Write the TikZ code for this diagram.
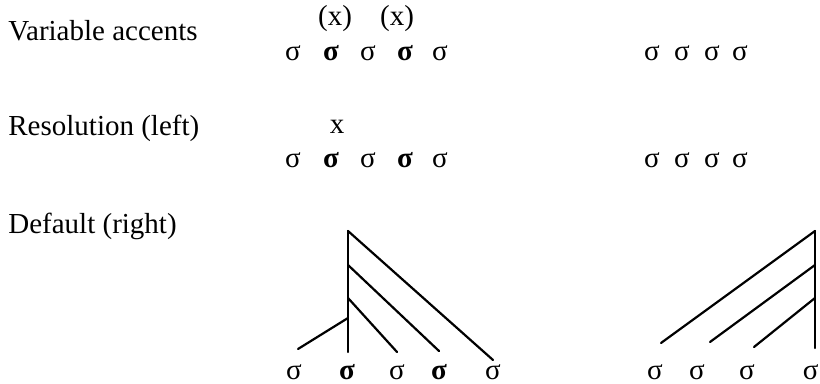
\documentclass[tikz,border=0pt]{standalone}
\usepackage{fontspec}
\setmainfont{Liberation Serif}
\usepackage{tikz}
\usetikzlibrary{positioning}
\tikzset{
  rowlabel/.style={anchor=west, inner sep=0pt, font=\fontsize{14.5}{17}\selectfont},
  syl/.style={inner sep=0pt, font=\fontsize{14.5}{17}\selectfont},
  strong/.style={inner sep=0pt, font=\fontsize{14.5}{17}\selectfont\bfseries},
  branch/.style={line width=1.1pt, line cap=round}
}
\begin{document}
\begin{tikzpicture}[x=0.5pt, y=-0.5pt]
        \useasboundingbox (0,0) rectangle (820,384);

        % Row labels
        \node[rowlabel] (labvar) at (8, 31) {Variable accents};
        \node[rowlabel] (labres) at (8, 128) {Resolution (left)};
        \node[rowlabel] (labdef) at (8, 226) {Default (right)};

        % Variable accents
        \node[syl] (xa) at (335, 19) {(x)};
        \node[syl] (xb) at (397, 19) {(x)};
        \node[syl] (va1) at (293, 53) {σ};
        \node[strong] (va2) at (331, 53) {σ};
        \node[syl] (va3) at (368, 53) {σ};
        \node[strong] (va4) at (405, 53) {σ};
        \node[syl] (va5) at (440, 53) {σ};
        \node[syl] (vb1) at (652, 53) {σ};
        \node[syl] (vb2) at (682, 53) {σ};
        \node[syl] (vb3) at (712, 53) {σ};
        \node[syl] (vb4) at (740, 53) {σ};

        % Resolution (left)
        \node[syl] (xr) at (337, 127) {x};
        \node[syl] (ra1) at (293, 160) {σ};
        \node[strong] (ra2) at (331, 160) {σ};
        \node[syl] (ra3) at (368, 160) {σ};
        \node[strong] (ra4) at (405, 160) {σ};
        \node[syl] (ra5) at (440, 160) {σ};
        \node[syl] (rb1) at (652, 160) {σ};
        \node[syl] (rb2) at (682, 160) {σ};
        \node[syl] (rb3) at (712, 160) {σ};
        \node[syl] (rb4) at (740, 160) {σ};

        % Default (right): left tree
        \node[syl] (da1) at (294, 372) {σ};
        \node[strong] (da2) at (347, 372) {σ};
        \node[syl] (da3) at (397, 372) {σ};
        \node[strong] (da4) at (439, 372) {σ};
        \node[syl] (da5) at (493, 372) {σ};
        \coordinate (ltop) at (348, 231);
        \coordinate (lk1) at (348, 265);
        \coordinate (lk2) at (348, 298);
        \coordinate (lk3) at (348, 318);
        \coordinate (lfoot) at (348, 352);
        \draw[branch] (ltop) -- (lfoot);
        \draw[branch] (ltop) -- (da5.north |- 0, 360);
        \draw[branch] (lk1) -- (da4.north |- 0, 351);
        \draw[branch] (lk2) -- (da3.north |- 0, 352);
        \draw[branch] (lk3) -- (298, 349);

        % Default (right): right tree
        \node[syl] (db1) at (655, 372) {σ};
        \node[syl] (db2) at (697, 372) {σ};
        \node[syl] (db3) at (747, 372) {σ};
        \node[syl, anchor=east] (db4) at (819, 372) {σ};
        \coordinate (rtop) at (815, 231);
        \coordinate (rk1) at (815, 265);
        \coordinate (rk2) at (815, 298);
        \coordinate (rfoot) at (815, 348);
        \draw[branch] (rtop) -- (rfoot);
        \draw[branch] (rtop) -- (661, 343);
        \draw[branch] (rk1) -- (710, 342);
        \draw[branch] (rk2) -- (754, 347);
    \end{tikzpicture}
\end{document}
